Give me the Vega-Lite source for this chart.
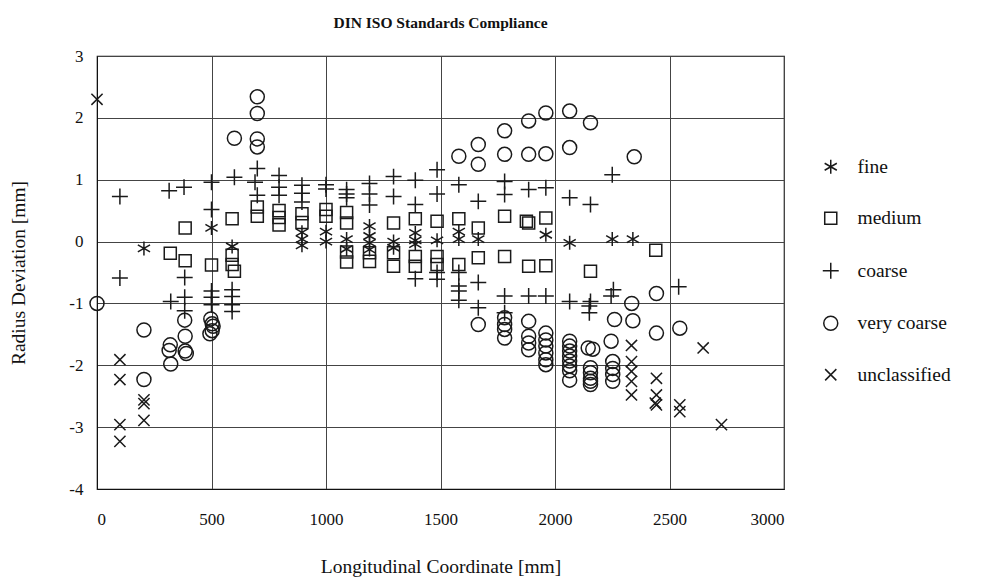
{
  "$schema": "https://vega.github.io/schema/vega-lite/v6.json",
  "autosize": {"type": "none"},
  "width": 687,
  "height": 433,
  "padding": {"left": 97, "top": 56, "right": 208, "bottom": 93},
  "background": "white",
  "title": {"text": "DIN ISO Standards Compliance", "font": "Liberation Serif", "fontSize": 15.5, "fontWeight": "bold", "color": "#111", "anchor": "middle", "offset": 16},
  "config": {
    "font": "Liberation Serif",
    "view": {"stroke": "#111", "strokeWidth": 1.2},
    "axis": {"labelFont": "Liberation Serif", "titleFont": "Liberation Serif", "labelFontSize": 17, "titleFontSize": 19.5, "titleFontWeight": "normal", "labelColor": "#111", "titleColor": "#111", "gridColor": "#444", "gridOpacity": 1, "gridWidth": 1, "domainColor": "#111", "ticks": false}
  },
  "data": {"values": [
    {"x":205,"y":-0.11,"c":"fine"},{"x":500,"y":0.22,"c":"fine"},{"x":590,"y":-0.08,"c":"fine"},{"x":895,"y":0.15,"c":"fine"},{"x":895,"y":0.04,"c":"fine"},{"x":895,"y":-0.06,"c":"fine"},{"x":1000,"y":0.16,"c":"fine"},{"x":1000,"y":0.0,"c":"fine"},{"x":1090,"y":0.04,"c":"fine"},{"x":1090,"y":-0.12,"c":"fine"},{"x":1190,"y":0.25,"c":"fine"},{"x":1190,"y":0.09,"c":"fine"},{"x":1190,"y":-0.02,"c":"fine"},{"x":1190,"y":-0.13,"c":"fine"},{"x":1295,"y":0.0,"c":"fine"},{"x":1295,"y":-0.1,"c":"fine"},{"x":1390,"y":0.14,"c":"fine"},{"x":1390,"y":0.02,"c":"fine"},{"x":1390,"y":-0.04,"c":"fine"},{"x":1485,"y":0.02,"c":"fine"},{"x":1580,"y":0.16,"c":"fine"},{"x":1580,"y":0.04,"c":"fine"},{"x":1665,"y":0.04,"c":"fine"},{"x":1960,"y":0.11,"c":"fine"},{"x":2064,"y":-0.02,"c":"fine"},{"x":2250,"y":0.04,"c":"fine"},{"x":2340,"y":0.04,"c":"fine"},
    {"x":320,"y":-0.19,"c":"medium"},{"x":385,"y":0.22,"c":"medium"},{"x":385,"y":-0.31,"c":"medium"},{"x":500,"y":-0.38,"c":"medium"},{"x":590,"y":0.37,"c":"medium"},{"x":590,"y":-0.22,"c":"medium"},{"x":590,"y":-0.37,"c":"medium"},{"x":600,"y":-0.48,"c":"medium"},{"x":700,"y":0.56,"c":"medium"},{"x":700,"y":0.41,"c":"medium"},{"x":795,"y":0.5,"c":"medium"},{"x":795,"y":0.39,"c":"medium"},{"x":795,"y":0.27,"c":"medium"},{"x":895,"y":0.45,"c":"medium"},{"x":895,"y":0.31,"c":"medium"},{"x":1000,"y":0.52,"c":"medium"},{"x":1000,"y":0.41,"c":"medium"},{"x":1090,"y":0.47,"c":"medium"},{"x":1090,"y":0.3,"c":"medium"},{"x":1090,"y":-0.17,"c":"medium"},{"x":1090,"y":-0.33,"c":"medium"},{"x":1190,"y":-0.18,"c":"medium"},{"x":1190,"y":-0.32,"c":"medium"},{"x":1295,"y":0.3,"c":"medium"},{"x":1295,"y":-0.18,"c":"medium"},{"x":1295,"y":-0.4,"c":"medium"},{"x":1390,"y":0.37,"c":"medium"},{"x":1390,"y":-0.24,"c":"medium"},{"x":1390,"y":-0.4,"c":"medium"},{"x":1485,"y":0.33,"c":"medium"},{"x":1485,"y":-0.24,"c":"medium"},{"x":1485,"y":-0.37,"c":"medium"},{"x":1580,"y":0.37,"c":"medium"},{"x":1580,"y":-0.37,"c":"medium"},{"x":1665,"y":0.22,"c":"medium"},{"x":1665,"y":-0.26,"c":"medium"},{"x":1780,"y":0.41,"c":"medium"},{"x":1780,"y":-0.24,"c":"medium"},{"x":1875,"y":0.33,"c":"medium"},{"x":1885,"y":0.3,"c":"medium"},{"x":1885,"y":-0.4,"c":"medium"},{"x":1960,"y":0.38,"c":"medium"},{"x":1960,"y":-0.39,"c":"medium"},{"x":2155,"y":-0.48,"c":"medium"},{"x":2440,"y":-0.14,"c":"medium"},
    {"x":100,"y":0.73,"c":"coarse"},{"x":100,"y":-0.59,"c":"coarse"},{"x":315,"y":0.82,"c":"coarse"},{"x":322,"y":-0.97,"c":"coarse"},{"x":380,"y":0.88,"c":"coarse"},{"x":383,"y":-0.58,"c":"coarse"},{"x":383,"y":-0.9,"c":"coarse"},{"x":383,"y":-1.12,"c":"coarse"},{"x":500,"y":0.96,"c":"coarse"},{"x":500,"y":0.52,"c":"coarse"},{"x":500,"y":-0.8,"c":"coarse"},{"x":500,"y":-0.9,"c":"coarse"},{"x":500,"y":-1.02,"c":"coarse"},{"x":600,"y":1.04,"c":"coarse"},{"x":590,"y":-0.78,"c":"coarse"},{"x":590,"y":-0.89,"c":"coarse"},{"x":590,"y":-1.02,"c":"coarse"},{"x":590,"y":-1.13,"c":"coarse"},{"x":700,"y":1.18,"c":"coarse"},{"x":690,"y":0.96,"c":"coarse"},{"x":700,"y":0.75,"c":"coarse"},{"x":795,"y":1.07,"c":"coarse"},{"x":795,"y":0.88,"c":"coarse"},{"x":795,"y":0.75,"c":"coarse"},{"x":895,"y":0.91,"c":"coarse"},{"x":895,"y":0.78,"c":"coarse"},{"x":895,"y":0.64,"c":"coarse"},{"x":1000,"y":0.92,"c":"coarse"},{"x":1000,"y":0.85,"c":"coarse"},{"x":1090,"y":0.84,"c":"coarse"},{"x":1090,"y":0.77,"c":"coarse"},{"x":1090,"y":0.71,"c":"coarse"},{"x":1190,"y":0.94,"c":"coarse"},{"x":1190,"y":0.77,"c":"coarse"},{"x":1190,"y":0.59,"c":"coarse"},{"x":1295,"y":1.05,"c":"coarse"},{"x":1295,"y":0.73,"c":"coarse"},{"x":1390,"y":0.99,"c":"coarse"},{"x":1390,"y":0.6,"c":"coarse"},{"x":1390,"y":-0.6,"c":"coarse"},{"x":1485,"y":1.16,"c":"coarse"},{"x":1485,"y":0.77,"c":"coarse"},{"x":1485,"y":-0.5,"c":"coarse"},{"x":1485,"y":-0.61,"c":"coarse"},{"x":1580,"y":0.92,"c":"coarse"},{"x":1580,"y":-0.5,"c":"coarse"},{"x":1580,"y":-0.72,"c":"coarse"},{"x":1580,"y":-0.8,"c":"coarse"},{"x":1580,"y":-0.95,"c":"coarse"},{"x":1665,"y":0.65,"c":"coarse"},{"x":1665,"y":-0.66,"c":"coarse"},{"x":1665,"y":-1.07,"c":"coarse"},{"x":1780,"y":0.97,"c":"coarse"},{"x":1780,"y":0.76,"c":"coarse"},{"x":1780,"y":-0.88,"c":"coarse"},{"x":1780,"y":-1.15,"c":"coarse"},{"x":1885,"y":0.84,"c":"coarse"},{"x":1885,"y":-0.88,"c":"coarse"},{"x":1960,"y":0.87,"c":"coarse"},{"x":1960,"y":-0.88,"c":"coarse"},{"x":2064,"y":0.71,"c":"coarse"},{"x":2064,"y":-0.97,"c":"coarse"},{"x":2155,"y":0.6,"c":"coarse"},{"x":2155,"y":-0.97,"c":"coarse"},{"x":2150,"y":-1.04,"c":"coarse"},{"x":2150,"y":-1.15,"c":"coarse"},{"x":2250,"y":1.08,"c":"coarse"},{"x":2255,"y":-0.78,"c":"coarse"},{"x":2245,"y":-0.88,"c":"coarse"},{"x":2540,"y":-0.73,"c":"coarse"},
    {"x":0,"y":-1.0,"c":"very coarse"},{"x":205,"y":-1.43,"c":"very coarse"},{"x":205,"y":-2.23,"c":"very coarse"},{"x":320,"y":-1.67,"c":"very coarse"},{"x":315,"y":-1.76,"c":"very coarse"},{"x":322,"y":-1.98,"c":"very coarse"},{"x":383,"y":-1.27,"c":"very coarse"},{"x":385,"y":-1.53,"c":"very coarse"},{"x":385,"y":-1.77,"c":"very coarse"},{"x":390,"y":-1.81,"c":"very coarse"},{"x":497,"y":-1.25,"c":"very coarse"},{"x":503,"y":-1.33,"c":"very coarse"},{"x":507,"y":-1.37,"c":"very coarse"},{"x":503,"y":-1.44,"c":"very coarse"},{"x":493,"y":-1.49,"c":"very coarse"},{"x":600,"y":1.67,"c":"very coarse"},{"x":700,"y":2.34,"c":"very coarse"},{"x":700,"y":2.07,"c":"very coarse"},{"x":700,"y":1.66,"c":"very coarse"},{"x":700,"y":1.53,"c":"very coarse"},{"x":1580,"y":1.38,"c":"very coarse"},{"x":1665,"y":1.57,"c":"very coarse"},{"x":1665,"y":1.25,"c":"very coarse"},{"x":1665,"y":-1.34,"c":"very coarse"},{"x":1780,"y":1.79,"c":"very coarse"},{"x":1780,"y":1.41,"c":"very coarse"},{"x":1780,"y":-1.23,"c":"very coarse"},{"x":1780,"y":-1.34,"c":"very coarse"},{"x":1780,"y":-1.42,"c":"very coarse"},{"x":1780,"y":-1.56,"c":"very coarse"},{"x":1885,"y":1.95,"c":"very coarse"},{"x":1885,"y":1.41,"c":"very coarse"},{"x":1885,"y":-1.29,"c":"very coarse"},{"x":1885,"y":-1.53,"c":"very coarse"},{"x":1885,"y":-1.64,"c":"very coarse"},{"x":1885,"y":-1.75,"c":"very coarse"},{"x":1960,"y":2.08,"c":"very coarse"},{"x":1960,"y":1.42,"c":"very coarse"},{"x":1960,"y":-1.48,"c":"very coarse"},{"x":1960,"y":-1.59,"c":"very coarse"},{"x":1960,"y":-1.69,"c":"very coarse"},{"x":1960,"y":-1.8,"c":"very coarse"},{"x":1960,"y":-1.91,"c":"very coarse"},{"x":1960,"y":-1.99,"c":"very coarse"},{"x":2064,"y":2.11,"c":"very coarse"},{"x":2064,"y":1.52,"c":"very coarse"},{"x":2064,"y":-1.61,"c":"very coarse"},{"x":2064,"y":-1.69,"c":"very coarse"},{"x":2064,"y":-1.77,"c":"very coarse"},{"x":2064,"y":-1.85,"c":"very coarse"},{"x":2064,"y":-1.93,"c":"very coarse"},{"x":2064,"y":-2.01,"c":"very coarse"},{"x":2064,"y":-2.09,"c":"very coarse"},{"x":2064,"y":-2.24,"c":"very coarse"},{"x":2155,"y":1.92,"c":"very coarse"},{"x":2145,"y":-1.72,"c":"very coarse"},{"x":2165,"y":-1.74,"c":"very coarse"},{"x":2155,"y":-2.04,"c":"very coarse"},{"x":2155,"y":-2.12,"c":"very coarse"},{"x":2155,"y":-2.21,"c":"very coarse"},{"x":2155,"y":-2.26,"c":"very coarse"},{"x":2155,"y":-2.31,"c":"very coarse"},{"x":2260,"y":-1.26,"c":"very coarse"},{"x":2245,"y":-1.61,"c":"very coarse"},{"x":2252,"y":-1.94,"c":"very coarse"},{"x":2252,"y":-2.05,"c":"very coarse"},{"x":2252,"y":-2.15,"c":"very coarse"},{"x":2252,"y":-2.26,"c":"very coarse"},{"x":2346,"y":1.37,"c":"very coarse"},{"x":2335,"y":-1.0,"c":"very coarse"},{"x":2340,"y":-1.28,"c":"very coarse"},{"x":2443,"y":-0.84,"c":"very coarse"},{"x":2443,"y":-1.48,"c":"very coarse"},{"x":2545,"y":-1.4,"c":"very coarse"},
    {"x":0,"y":2.3,"c":"unclassified"},{"x":100,"y":-1.91,"c":"unclassified"},{"x":100,"y":-2.23,"c":"unclassified"},{"x":100,"y":-2.96,"c":"unclassified"},{"x":100,"y":-3.23,"c":"unclassified"},{"x":205,"y":-2.56,"c":"unclassified"},{"x":205,"y":-2.62,"c":"unclassified"},{"x":205,"y":-2.89,"c":"unclassified"},{"x":2334,"y":-1.68,"c":"unclassified"},{"x":2334,"y":-1.94,"c":"unclassified"},{"x":2334,"y":-2.1,"c":"unclassified"},{"x":2334,"y":-2.26,"c":"unclassified"},{"x":2334,"y":-2.48,"c":"unclassified"},{"x":2443,"y":-2.21,"c":"unclassified"},{"x":2443,"y":-2.48,"c":"unclassified"},{"x":2438,"y":-2.61,"c":"unclassified"},{"x":2443,"y":-2.64,"c":"unclassified"},{"x":2545,"y":-2.64,"c":"unclassified"},{"x":2545,"y":-2.75,"c":"unclassified"},{"x":2647,"y":-1.72,"c":"unclassified"},{"x":2727,"y":-2.96,"c":"unclassified"}
  ]},
  "mark": {"type": "point", "filled": false, "fill": "transparent", "stroke": "#1a1a1a", "strokeWidth": 1.5, "size": 196, "opacity": 1},
  "encoding": {
    "x": {"field": "x", "type": "quantitative", "scale": {"domain": [0, 3000], "nice": false, "zero": false}, "axis": {"values": [0, 500, 1000, 1500, 2000, 2500, 3000], "labelExpr": "toString(datum.value)", "labelPadding": 22, "title": "Longitudinal Coordinate [mm]", "titlePadding": 30, "grid": true}},
    "y": {"field": "y", "type": "quantitative", "scale": {"domain": [-4, 3], "nice": false, "zero": false}, "axis": {"values": [-4, -3, -2, -1, 0, 1, 2, 3], "labelExpr": "toString(datum.value)", "labelPadding": 14, "title": "Radius Deviation [mm]", "titlePadding": 40, "grid": true}},
    "shape": {"field": "c", "type": "nominal", "scale": {"domain": ["fine", "medium", "coarse", "very coarse", "unclassified"], "range": ["M0,-1L0,1M-0.87,-0.5L0.87,0.5M-0.87,0.5L0.87,-0.5", "M-0.86,-0.86H0.86V0.86H-0.86Z", "M-1.14,0H1.14M0,-1.14V1.14", "circle", "M-0.8,-0.8L0.8,0.8M-0.8,0.8L0.8,-0.8"]},
      "legend": {"title": null, "orient": "none", "legendX": 724, "legendY": 101, "symbolSize": 196, "symbolStrokeColor": "#1a1a1a", "symbolFillColor": "transparent", "symbolStrokeWidth": 1.5, "labelFont": "Liberation Serif", "labelFontSize": 19.5, "labelColor": "#111", "labelOffset": 17, "rowPadding": 30.5, "symbolType": "circle"}}
  }
}
